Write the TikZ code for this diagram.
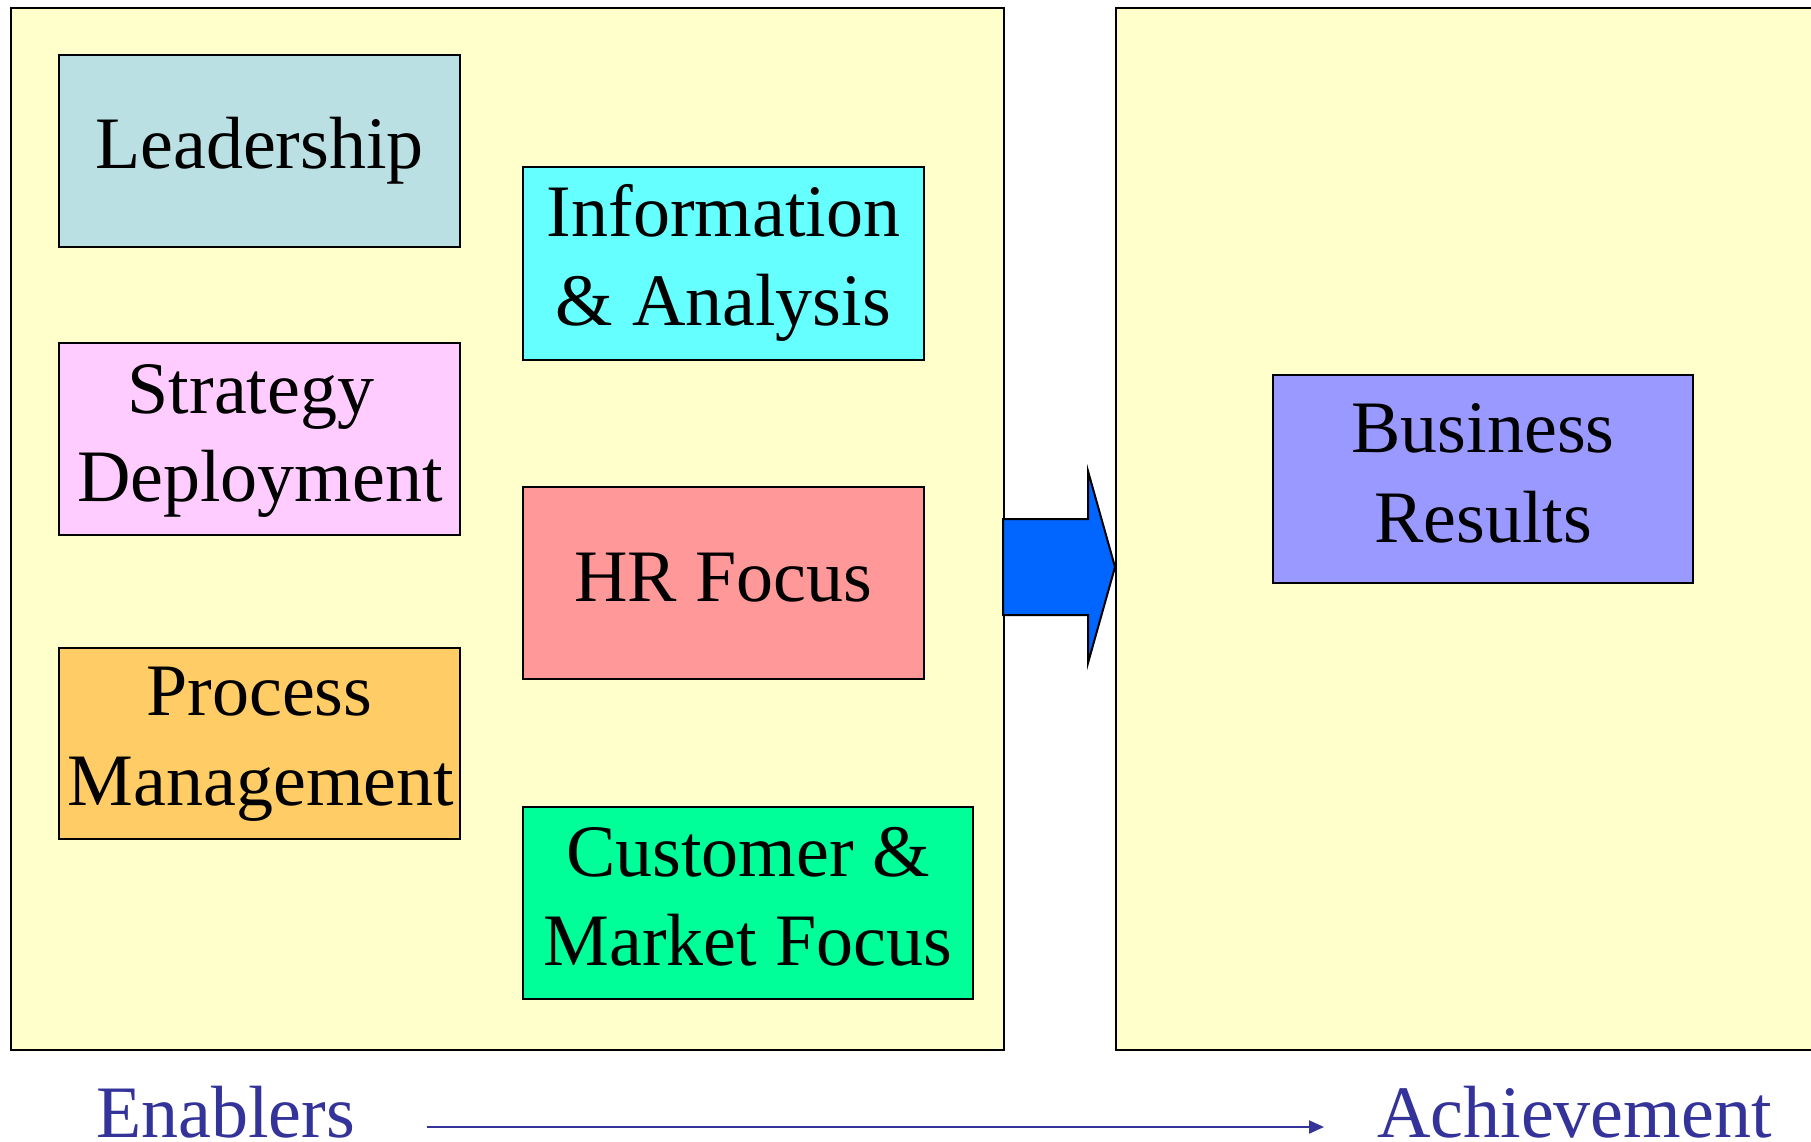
\documentclass[tikz,border=0pt]{standalone}
\usepackage{fontspec}
\setmainfont{Liberation Serif}
\newfontfamily\timesface{Liberation Serif}
\usetikzlibrary{arrows.meta}
\definecolor{bgyellow}{HTML}{FFFFCC}
\definecolor{cLead}{HTML}{BBE0E3}
\definecolor{cStrat}{HTML}{FFCCFF}
\definecolor{cProc}{HTML}{FFCC66}
\definecolor{cInfo}{HTML}{66FFFF}
\definecolor{cHR}{HTML}{FF9999}
\definecolor{cCust}{HTML}{00FF99}
\definecolor{cBus}{HTML}{9999FF}
\definecolor{cArrow}{HTML}{0066FF}
\definecolor{cText}{HTML}{333399}
\tikzset{
  panel/.style={draw=black, fill=bgyellow, line width=2.5pt},
  catbox/.style={draw=black, line width=2.5pt},
  boxtext/.style={anchor=base, inner sep=0pt, text=black,
    font=\timesface\fontsize{74}{89}\selectfont},
  footlabel/.style={anchor=base west, inner sep=0pt, text=cText,
    font=\timesface\fontsize{74}{89}\selectfont},
}
\begin{document}
\begin{tikzpicture}[x=1pt,y=-1pt]
\useasboundingbox (0,0) rectangle (1811,1141);
\clip (0,0) rectangle (1811,1141);
\fill[white] (0,0) rectangle (1811,1141);
% panels
\draw[panel] (11,8) rectangle (1004,1050);
\draw[panel] (1116,8) rectangle (1840,1050);
% boxes
\draw[catbox, fill=cLead]  (59,55)   rectangle (460,247);
\draw[catbox, fill=cStrat] (59,343)  rectangle (460,535);
\draw[catbox, fill=cProc]  (59,648)  rectangle (460,839);
\draw[catbox, fill=cInfo]  (523,167) rectangle (924,360);
\draw[catbox, fill=cHR]    (523,487) rectangle (924,679);
\draw[catbox, fill=cCust]  (523,807) rectangle (973,999);
\draw[catbox, fill=cBus]   (1273,375) rectangle (1693,583);
% texts
\node[boxtext] (lead)   at (259.5,168) {Leadership};
\node[boxtext] (strat1) at (251,413) {Strategy};
\node[boxtext] (strat2) at (260,501) {Deployment};
\node[boxtext] (proc1)  at (259.5,715) {Process};
\node[boxtext] (proc2)  at (261,805) {Management};
\node[boxtext] (info1)  at (723.5,236) {Information};
\node[boxtext] (info2)  at (723.5,325) {\& Analysis};
\node[boxtext] (hr)     at (723.5,601) {HR Focus};
\node[boxtext] (cust1)  at (748,876) {Customer \&};
\node[boxtext] (cust2)  at (748,965) {Market Focus};
\node[boxtext] (bus1)   at (1483,452) {Business};
\node[boxtext] (bus2)   at (1483,542) {Results};
% big arrow
\draw[fill=cArrow, line width=2pt, line join=miter]
  (1003,519) -- (1088,519) -- (1088,471) -- (1115,567) -- (1088,663) -- (1088,615) -- (1003,615) -- cycle;
% footer
\node[footlabel] (en) at (96,1137) {Enablers};
\node[footlabel] (ach) at (1377,1137) {Achievement};
\coordinate (ls) at (427,1127);
\coordinate (le) at (1324,1127);
\draw[cText, line width=2pt, -{Triangle[length=15pt,width=13pt]}] (ls) -- (le);
\end{tikzpicture}
\end{document}
